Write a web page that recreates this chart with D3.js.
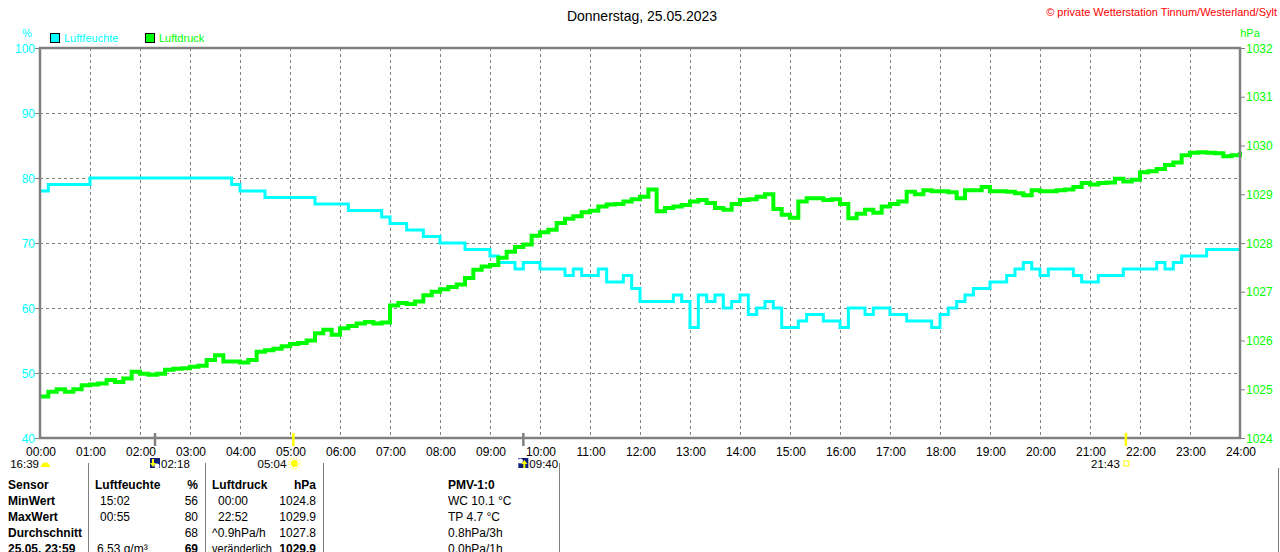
<!DOCTYPE html>
<html>
<head>
<meta charset="utf-8">
<script src="https://cdn.jsdelivr.net/npm/d3@7"></script>
<style>
  body { margin: 0; background: #fff; }
  svg { display: block; font-family: "Liberation Sans", Arial, sans-serif; }
  .grid line { stroke: #808080; stroke-dasharray: 3,3; }
  .tick-label { font-size: 12px; }
  .ev-label { font-size: 11.5px; }
</style>
</head>
<body>
<svg id="chart" width="1280" height="552"></svg>
<script>
// hours on the x axis
const hourLabels = ['00:00','01:00','02:00','03:00','04:00','05:00','06:00','07:00','08:00','09:00','10:00','11:00','12:00',
  '13:00','14:00','15:00','16:00','17:00','18:00','19:00','20:00','21:00','22:00','23:00','24:00']
const humTicks = [40, 50, 60, 70, 80, 90, 100]
const presTicks = [1024, 1025, 1026, 1027, 1028, 1029, 1030, 1031, 1032]

// one value every 10 minutes, 00:00 .. 24:00
const humidity = [
  78, 79, 79, 79, 79, 79,   80, 80, 80, 80, 80, 80,   80, 80, 80, 80, 80, 80,
  80, 80, 80, 80, 80, 79,   78, 78, 78, 77, 77, 77,   77, 77, 77, 76, 76, 76,
  76, 75, 75, 75, 75, 74,   73, 73, 72, 72, 71, 71,   70, 70, 70, 69, 69, 69,
  68, 67, 67, 66, 67, 67,   66, 66, 66, 65, 66, 65,   65, 66, 64, 64, 65, 63,
  61, 61, 61, 61, 62, 61,   57, 62, 61, 62, 60, 61,   62, 59, 60, 61, 60, 57,
  57, 58, 59, 59, 58, 58,   57, 60, 60, 59, 60, 60,   59, 59, 58, 58, 58, 57,
  59, 60, 61, 62, 63, 63,   64, 64, 65, 66, 67, 66,   65, 66, 66, 66, 65, 64,
  64, 65, 65, 65, 66, 66,   66, 66, 67, 66, 67, 68,   68, 68, 69, 69, 69, 69,
  69
]
const pressure = [
  1024.85, 1024.95, 1025.0, 1024.95, 1025.0, 1025.08,
  1025.1, 1025.12, 1025.19, 1025.15, 1025.22, 1025.36,
  1025.32, 1025.3, 1025.32, 1025.4, 1025.42, 1025.43,
  1025.46, 1025.48, 1025.6, 1025.7, 1025.57, 1025.57,
  1025.55, 1025.6, 1025.77, 1025.8, 1025.83, 1025.88,
  1025.93, 1025.95, 1026.0, 1026.15, 1026.22, 1026.12,
  1026.25, 1026.3, 1026.35, 1026.38, 1026.35, 1026.37,
  1026.72, 1026.77, 1026.75, 1026.8, 1026.93, 1027.0,
  1027.05, 1027.1, 1027.15, 1027.28, 1027.45, 1027.52,
  1027.55, 1027.7, 1027.82, 1027.92, 1027.97, 1028.15,
  1028.22, 1028.27, 1028.41, 1028.5, 1028.55, 1028.63,
  1028.66, 1028.75, 1028.79, 1028.8, 1028.85, 1028.9,
  1028.95, 1029.1, 1028.65, 1028.72, 1028.75, 1028.78,
  1028.85, 1028.88, 1028.82, 1028.72, 1028.68, 1028.8,
  1028.88, 1028.9, 1028.95, 1029.0, 1028.7, 1028.58,
  1028.52, 1028.85, 1028.92, 1028.92, 1028.88, 1028.9,
  1028.8, 1028.51, 1028.6, 1028.68, 1028.62, 1028.75,
  1028.8, 1028.85, 1029.05, 1029.0, 1029.08, 1029.06,
  1029.06, 1029.04, 1028.92, 1029.08, 1029.08, 1029.15,
  1029.06, 1029.06, 1029.05, 1029.02, 1028.98, 1029.08,
  1029.06, 1029.06, 1029.08, 1029.1, 1029.15, 1029.23,
  1029.2, 1029.23, 1029.24, 1029.32, 1029.26, 1029.3,
  1029.45, 1029.47, 1029.52, 1029.6, 1029.65, 1029.8,
  1029.85, 1029.86, 1029.85, 1029.84, 1029.78, 1029.8,
  1029.87
]

// sun / moon events below the axis
const events = [
  {label: '02:18', hour: 2.3, kind: 'moonrise', color: '#808080'},
  {label: '05:04', hour: 5.067, kind: 'sunrise', color: '#ffff00'},
  {label: '09:40', hour: 9.667, kind: 'moonset', color: '#808080'},
  {label: '21:43', hour: 21.717, kind: 'sunset', color: '#ffff00'}
]

// table below the chart
const tableRows = ['Sensor', 'MinWert', 'MaxWert', 'Durchschnitt', '25.05. 23:59']
const humCol = [['Luftfeuchte', '%'], ['15:02', '56'], ['00:55', '80'], ['', '68'], ['6.53 g/m³', '69']]
const presCol = [['Luftdruck', 'hPa'], ['00:00', '1024.8'], ['22:52', '1029.9'], ['^0.9hPa/h', '1027.8'], ['veränderlich', '1029.9']]
const pmvCol = ['PMV-1:0', 'WC 10.1 °C', 'TP 4.7 °C', '0.8hPa/3h', '0.0hPa/1h']

const CYAN = '#00ffff', GREEN = '#00ff00', GREY = '#808080'
const MARGIN = {top: 48, right: 40, bottom: 114, left: 40}
const width = 1280, height = 552
const $svg = d3.select('#chart')

const xScale = d3.scaleLinear().domain([0, 24]).range([MARGIN.left, width - MARGIN.right])
const yHum = d3.scaleLinear().domain([40, 100]).range([height - MARGIN.bottom, MARGIN.top])
const yPres = d3.scaleLinear().domain([1024, 1032]).range([height - MARGIN.bottom, MARGIN.top])
const hourAt = i => i * 10 / 60

function drawChart() {
  const top = MARGIN.top, bottom = height - MARGIN.bottom
  const left = MARGIN.left, right = width - MARGIN.right

  // grid
  const $grid = $svg.append('g').attr('class', 'grid')
  $grid.selectAll('.vgrid')
    .data(d3.range(1, 24))
    .enter().append('line')
      .attr('x1', d => xScale(d) + 0.5).attr('x2', d => xScale(d) + 0.5)
      .attr('y1', top).attr('y2', bottom)
  $grid.selectAll('.hgrid')
    .data(humTicks.slice(1, -1))
    .enter().append('line')
      .attr('x1', left).attr('x2', right)
      .attr('y1', d => yHum(d) + 0.5).attr('y2', d => yHum(d) + 0.5)

  // left axis (humidity)
  const $left = $svg.append('g')
  $left.selectAll('line')
    .data(humTicks).enter().append('line')
      .attr('x1', left - 5).attr('x2', left)
      .attr('y1', d => yHum(d) + 0.5).attr('y2', d => yHum(d) + 0.5)
      .attr('stroke', GREY)
  $left.selectAll('text')
    .data(humTicks).enter().append('text')
      .attr('class', 'tick-label')
      .attr('x', left - 5).attr('y', d => yHum(d) + 4.5)
      .attr('text-anchor', 'end').attr('fill', CYAN)
      .text(d => d)

  // right axis (pressure)
  const $right = $svg.append('g')
  $right.selectAll('line')
    .data(presTicks).enter().append('line')
      .attr('x1', right).attr('x2', right + 5)
      .attr('y1', d => yPres(d) + 0.5).attr('y2', d => yPres(d) + 0.5)
      .attr('stroke', GREY)
  $right.selectAll('text')
    .data(presTicks).enter().append('text')
      .attr('class', 'tick-label')
      .attr('x', right + 6).attr('y', d => yPres(d) + 4.5)
      .attr('fill', GREEN)
      .text(d => d)

  // x labels
  $svg.append('g').selectAll('text')
    .data(hourLabels).enter().append('text')
      .attr('class', 'tick-label')
      .attr('x', (d, i) => xScale(i) + 1).attr('y', bottom + 18)
      .attr('text-anchor', 'middle').attr('fill', '#000')
      .text(d => d)

  // series
  const humLine = d3.line()
    .x((d, i) => xScale(hourAt(i)))
    .y(d => yHum(d))
    .curve(d3.curveStepAfter)
  const presLine = d3.line()
    .x((d, i) => xScale(hourAt(i)))
    .y(d => yPres(d))
    .curve(d3.curveStepAfter)

  $svg.append('path')
    .datum(humidity)
    .attr('d', humLine)
    .attr('fill', 'none').attr('stroke', CYAN).attr('stroke-width', 3)
  $svg.append('path')
    .datum(pressure)
    .attr('d', presLine)
    .attr('fill', 'none').attr('stroke', GREEN).attr('stroke-width', 4)

  // frame
  $svg.append('rect')
    .attr('x', left).attr('y', top)
    .attr('width', right - left).attr('height', bottom - top)
    .attr('fill', 'none').attr('stroke', GREY).attr('stroke-width', 2.5)

  // event markers
  const $ev = $svg.append('g')
  $ev.selectAll('line')
    .data(events).enter().append('line')
      .attr('x1', d => xScale(d.hour)).attr('x2', d => xScale(d.hour))
      .attr('y1', bottom - 5).attr('y2', bottom + 8)
      .attr('stroke', d => d.color).attr('stroke-width', 2.5)
  const ly = bottom + 30
  events.forEach(d => {
    const xp = xScale(d.hour)
    const g = $ev.append('g')
    if (d.kind === 'moonrise' || d.kind === 'moonset') {
      g.append('rect').attr('x', xp - 5).attr('y', bottom + 20).attr('width', 10).attr('height', 10).attr('fill', '#10207a')
      g.append('circle').attr('cx', d.kind === 'moonrise' ? xp + 2 : xp - 3).attr('cy', d.kind === 'moonrise' ? bottom + 28 : bottom + 23)
        .attr('r', 2.5).attr('fill', '#fff')
      g.append('path')
        .attr('d', d.kind === 'moonrise'
          ? `M${xp - 3},${bottom + 21} l2,0 l0,4 l2,0 l-3,4 l-3,-4 l2,0 z`
          : `M${xp + 1},${bottom + 30} l-1,0 l0,-4 l-2,0 l3,-4 l3,4 l-2,0 l0,4 z`)
        .attr('fill', '#ffff00')
      g.append('text').attr('class', 'ev-label').attr('x', xp + 6).attr('y', ly).text(d.label)
    } else if (d.kind === 'sunrise') {
      g.append('circle').attr('cx', xp + 1).attr('cy', bottom + 25.5).attr('r', 3.5).attr('fill', '#ffff00')
      g.append('circle').attr('cx', xp + 1).attr('cy', bottom + 25.5).attr('r', 5.5)
        .attr('fill', 'none').attr('stroke', '#ffff00').attr('stroke-width', 1).attr('stroke-dasharray', '1.5,1.5')
      g.append('text').attr('class', 'ev-label').attr('x', xp - 7).attr('y', ly)
        .attr('text-anchor', 'end').text(d.label)
    } else {
      g.append('rect').attr('x', xp - 2).attr('y', bottom + 23).attr('width', 5).attr('height', 5)
        .attr('fill', 'none').attr('stroke', '#ffff00').attr('stroke-width', 1)
      g.append('text').attr('class', 'ev-label').attr('x', xp - 6).attr('y', ly)
        .attr('text-anchor', 'end').text(d.label)
    }
  })
  // sunset of the day before, at the left edge
  $svg.append('text').attr('class', 'ev-label').attr('x', 39).attr('y', ly)
    .attr('text-anchor', 'end').text('16:39')
  $svg.append('path')
    .attr('d', `M41,${bottom + 29} a4.5,4.5 0 0 1 9,0 z`)
    .attr('fill', '#ffff00')

  // titles & legend
  $svg.append('text').attr('x', 642).attr('y', 21).attr('text-anchor', 'middle')
    .attr('font-size', 14).attr('fill', '#000').text('Donnerstag, 25.05.2023')
  $svg.append('text').attr('x', 1277).attr('y', 16).attr('text-anchor', 'end')
    .attr('font-size', 11).attr('fill', '#ff0000').text('© private Wetterstation Tinnum/Westerland/Sylt')
  $svg.append('text').attr('x', 27).attr('y', 37).attr('text-anchor', 'middle')
    .attr('font-size', 11).attr('fill', CYAN).text('%')
  $svg.append('text').attr('x', 1250).attr('y', 37).attr('text-anchor', 'middle')
    .attr('font-size', 11).attr('fill', GREEN).text('hPa')

  const legend = [{name: 'Luftfeuchte', color: CYAN, x: 50}, {name: 'Luftdruck', color: GREEN, x: 145}]
  const $leg = $svg.append('g').selectAll('g').data(legend).enter().append('g')
  $leg.append('rect')
    .attr('x', d => d.x + 0.5).attr('y', 33.5).attr('width', 9).attr('height', 9)
    .attr('fill', d => d.color).attr('stroke', '#000')
  $leg.append('text')
    .attr('x', d => d.x + 14).attr('y', 42)
    .attr('font-size', 11).attr('fill', d => d.color)
    .text(d => d.name)

  // table
  const rowY = i => 489 + i * 16
  const $tab = $svg.append('g').attr('font-size', 12).attr('fill', '#000')
  ;[88, 205, 323, 559, 1278].forEach(xp => {
    $tab.append('line').attr('x1', xp + 0.5).attr('x2', xp + 0.5)
      .attr('y1', xp === 1278 ? 468 : 463).attr('y2', height).attr('stroke', GREY)
  })
  tableRows.forEach((r, i) => {
    $tab.append('text').attr('x', 8).attr('y', rowY(i)).attr('font-weight', 'bold').text(r)
  })
  humCol.forEach((c, i) => {
    $tab.append('text').attr('x', i === 0 ? 95 : 97 + (i < 3 ? 3 : 0)).attr('y', rowY(i))
      .attr('font-weight', i === 0 ? 'bold' : 'normal').text(c[0])
    $tab.append('text').attr('x', 198).attr('y', rowY(i)).attr('text-anchor', 'end')
      .attr('font-weight', (i === 0 || i === 4) ? 'bold' : 'normal').text(c[1])
  })
  presCol.forEach((c, i) => {
    const t = $tab.append('text').attr('x', (i === 1 || i === 2) ? 218 : 212).attr('y', rowY(i))
      .attr('font-weight', i === 0 ? 'bold' : 'normal').text(c[0])
    if (i === 4) t.attr('textLength', 60).attr('lengthAdjust', 'spacingAndGlyphs')
    $tab.append('text').attr('x', 316).attr('y', rowY(i)).attr('text-anchor', 'end')
      .attr('font-weight', (i === 0 || i === 4) ? 'bold' : 'normal').text(c[1])
  })
  pmvCol.forEach((c, i) => {
    $tab.append('text').attr('x', 448).attr('y', rowY(i))
      .attr('font-weight', i === 0 ? 'bold' : 'normal').text(c)
  })
}

drawChart()
</script>
</body>
</html>
